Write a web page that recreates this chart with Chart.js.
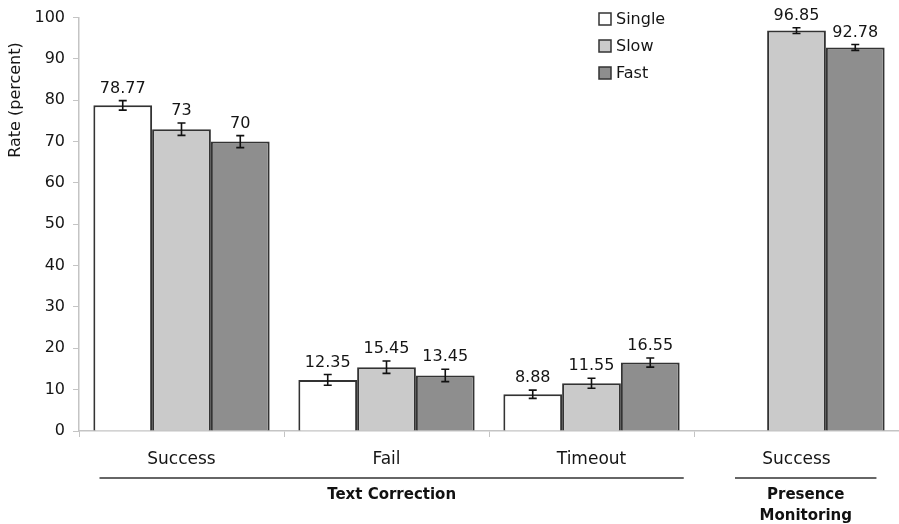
<!DOCTYPE html>
<html>
<head>
<meta charset="utf-8">
<script src="https://cdn.jsdelivr.net/npm/chart.js@4.4.1/dist/chart.umd.min.js"></script>
<style>
  html, body { margin: 0; padding: 0; background: #fff; }
  #wrap { width: 899px; height: 524px; position: relative; }
</style>
</head>
<body>
<div id="wrap"><canvas id="chart"></canvas></div>
<script>
const categories = ["Success", "Fail", "Timeout", "Success"];
const singleValues = [78.77, 12.35, 8.88, null];
const slowValues = [73, 15.45, 11.55, 96.85];
const fastValues = [70, 13.45, 16.55, 92.78];
const singleErrors = [1.15, 1.3, 1.0, null];
const slowErrors = [1.5, 1.5, 1.2, 0.7];
const fastErrors = [1.45, 1.5, 1.1, 0.7];
const groupNames = [["Text Correction"], ["Presence", "Monitoring"]];
const groupRanges = [[0, 2], [3, 3]];
const yTitle = "Rate (percent)";

const fontFamily = "'DejaVu Sans', Verdana, sans-serif";
const textColor = "#151515";
const axisColor = "#c4c4c4";

// error bars + value labels, drawn from the bar elements
const errorBarPlugin = {
    id: "errorBars",
    afterDatasetsDraw(chart) {
        const ctx = chart.ctx;
        const y = chart.scales.y;
        chart.data.datasets.forEach((ds, di) => {
            const meta = chart.getDatasetMeta(di);
            meta.data.forEach((bar, i) => {
                const v = ds.data[i];
                if (v === null) return;
                const err = ds.errors[i];
                const top = y.getPixelForValue(v + err);
                const bot = y.getPixelForValue(v - err);
                ctx.save();
                ctx.strokeStyle = "#111";
                ctx.lineWidth = 1.6;
                ctx.beginPath();
                ctx.moveTo(bar.x, top);
                ctx.lineTo(bar.x, bot);
                ctx.moveTo(bar.x - 4, top);
                ctx.lineTo(bar.x + 4, top);
                ctx.moveTo(bar.x - 4, bot);
                ctx.lineTo(bar.x + 4, bot);
                ctx.stroke();
                ctx.fillStyle = textColor;
                ctx.font = "16px " + fontFamily;
                ctx.textAlign = "center";
                ctx.textBaseline = "bottom";
                ctx.fillText(String(v), bar.x, top - 4);
                ctx.restore();
            });
        });
    }
};

// grouping lines under the category labels, plus the y title near the top
const groupPlugin = {
    id: "groups",
    afterDraw(chart) {
        const ctx = chart.ctx;
        const x = chart.scales.x;
        const step = x.getPixelForTick(1) - x.getPixelForTick(0);
        ctx.save();
        groupRanges.forEach((r, gi) => {
            const x0 = x.getPixelForTick(r[0]) - (gi === 0 ? 0.4 : 0.3) * step;
            const x1 = x.getPixelForTick(r[1]) + (gi === 0 ? 0.45 : 0.39) * step;
            ctx.strokeStyle = "#333";
            ctx.lineWidth = 1.5;
            ctx.beginPath();
            ctx.moveTo(x0, 478);
            ctx.lineTo(x1, 478);
            ctx.stroke();
            ctx.fillStyle = "#111";
            ctx.font = "bold 15px " + fontFamily;
            ctx.textAlign = "center";
            ctx.textBaseline = "middle";
            groupNames[gi].forEach((line, li) => {
                ctx.fillText(line, (x0 + x1) / 2, 495 + li * 21);
            });
        });
        ctx.translate(16, 100);
        ctx.rotate(-Math.PI / 2);
        ctx.fillStyle = textColor;
        ctx.font = "16px " + fontFamily;
        ctx.textAlign = "center";
        ctx.textBaseline = "middle";
        ctx.fillText(yTitle, 0, 0);
        ctx.restore();
    }
};

// legend stacked vertically inside the plot
const boxLegendPlugin = {
    id: "boxLegend",
    afterDraw(chart) {
        const ctx = chart.ctx;
        ctx.save();
        chart.data.datasets.forEach((ds, i) => {
            const cy = 19 + i * 27;
            ctx.fillStyle = ds.backgroundColor;
            ctx.fillRect(599, cy - 6, 12, 12);
            ctx.strokeStyle = "#333";
            ctx.lineWidth = 1.5;
            ctx.strokeRect(599, cy - 6, 12, 12);
            ctx.fillStyle = textColor;
            ctx.font = "16px " + fontFamily;
            ctx.textAlign = "left";
            ctx.textBaseline = "middle";
            ctx.fillText(ds.label, 616, cy + 1);
        });
        ctx.restore();
    }
};

new Chart(document.getElementById("chart"), {
    type: "bar",
    data: {
        labels: categories,
        datasets: [
            { label: "Single", data: singleValues, errors: singleErrors, backgroundColor: "#ffffff" },
            { label: "Slow", data: slowValues, errors: slowErrors, backgroundColor: "#cacaca" },
            { label: "Fast", data: fastValues, errors: fastErrors, backgroundColor: "#8e8e8e" },
        ].map((d) => Object.assign(d, {
            borderColor: "#333333",
            borderWidth: 2,
            categoryPercentage: 0.86,
            barPercentage: 1.0,
        })),
    },
    options: {
        responsive: true,
        maintainAspectRatio: false,
        animation: false,
        layout: { padding: { top: 9, left: 0, right: 0, bottom: 0 } },
        scales: {
            x: {
                grid: {
                    offset: true,
                    drawOnChartArea: false,
                    drawTicks: true,
                    tickLength: 6,
                    color: axisColor,
                },
                border: { color: axisColor, width: 1.5 },
                ticks: {
                    color: textColor,
                    font: { family: fontFamily, size: 17 },
                    padding: 12,
                },
                afterFit(scale) { scale.height = 93; },
            },
            y: {
                min: 0,
                max: 100,
                grid: {
                    drawOnChartArea: false,
                    drawTicks: true,
                    tickLength: 6,
                    color: axisColor,
                },
                border: { color: axisColor, width: 1.5 },
                ticks: {
                    stepSize: 10,
                    color: textColor,
                    font: { family: fontFamily, size: 16 },
                    padding: 8,
                },
                afterFit(scale) { scale.width = 79; },
            },
        },
        plugins: {
            legend: { display: false },
            tooltip: { enabled: false },
        },
    },
    plugins: [errorBarPlugin, groupPlugin, boxLegendPlugin],
});
</script>
</body>
</html>
